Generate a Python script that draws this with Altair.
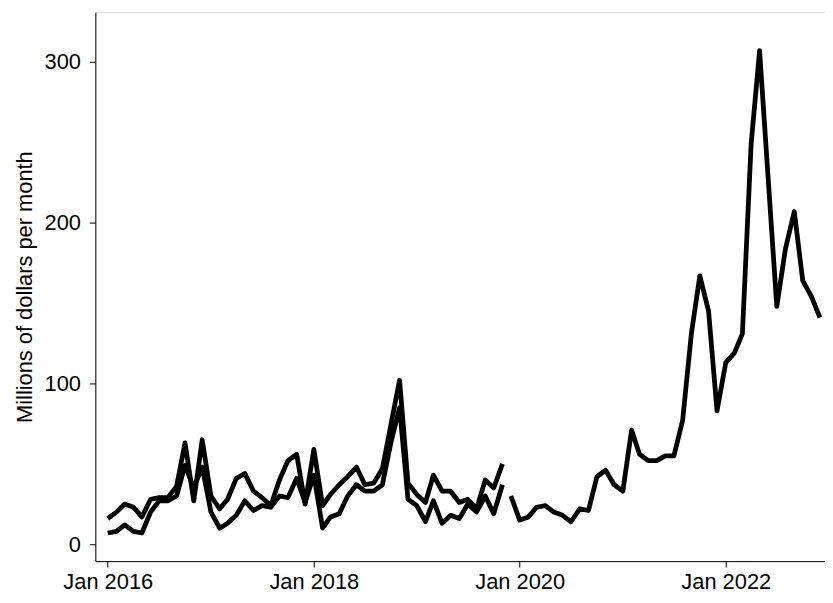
import altair as alt
import pandas as pd

# Monthly values (millions of dollars per month)
series_a = [16, 20, 25, 23, 17, 28, 29, 29, 36, 63, 27, 65,
            30, 22, 28, 41, 44, 33, 29, 24, 40, 52, 56, 25,
            59, 24, 31, 37, 42, 48, 37, 38, 47, 74, 102, 38,
            31, 26, 43, 33, 33, 26, 28, 22, 40, 35, 50]
series_b = [7, 8, 12, 8, 7, 20, 27, 27, 30, 49, 35, 48,
            20, 10, 13, 18, 27, 21, 24, 23, 30, 29, 41, 26,
            43, 10, 17, 19, 30, 37, 33, 33, 37, 63, 85, 28,
            24, 14, 27, 13, 18, 16, 25, 20, 30, 19, 37]
series_c = [30,
            15, 17, 23, 24, 20, 18, 14, 22, 21, 42, 46, 37,
            33, 71, 56, 52, 52, 55, 55, 77, 131, 167, 145, 83,
            113, 119, 131, 249, 307, 226, 148, 184, 207, 164, 154, 141]

start_ab = "2016-01-01"
start_c = "2019-12-01"

def months(start, n):
    return [d.strftime("%Y-%m-%dT00:00:00") for d in pd.date_range(start, periods=n, freq="MS")]

rows = []
for name, start, vals in [("A", start_ab, series_a), ("B", start_ab, series_b), ("C", start_c, series_c)]:
    for d, v in zip(months(start, len(vals)), vals):
        rows.append({"date": d, "value": v, "series": name})
df = pd.DataFrame(rows)

tick_dates = [alt.DateTime(year=y, month=1, date=1) for y in (2016, 2018, 2020, 2022)]
font = "Liberation Sans"

chart = alt.Chart(df).mark_line(strokeWidth=4.8, strokeJoin="round").encode(
    x=alt.X("date:T",
            scale=alt.Scale(domain=[alt.DateTime(year=2015, month=11, date=18),
                                    alt.DateTime(year=2022, month=12, date=19)]),
            axis=alt.Axis(values=tick_dates, format="%b %Y", title=None, grid=False,
                          labelFontSize=22, labelFont=font, labelColor="black",
                          tickColor="black", tickSize=6, domainColor="black",
                          labelPadding=5, labelFlush=False)),
    y=alt.Y("value:Q",
            scale=alt.Scale(domain=[-10.5, 331], nice=False, zero=False),
            axis=alt.Axis(values=[0, 100, 200, 300], title="Millions of dollars per month",
                          grid=False, labelFontSize=22, labelFont=font, labelColor="black",
                          titleFontSize=22, titleFont=font, titleFontWeight="normal",
                          titleColor="black", titlePadding=8,
                          tickColor="black", tickSize=6, domainColor="black",
                          labelPadding=9)),
    color=alt.Color("series:N", legend=None,
                    scale=alt.Scale(range=["black", "black", "black"])),
).properties(
    width=735, height=553,
    autosize=alt.AutoSizeParams(type="none"),
    padding={"left": 88, "top": 2, "right": 0, "bottom": 38},
).configure_view(strokeWidth=0).configure(background="white")

chart.save("out.html", embed_options={"renderer": "svg", "actions": False})
